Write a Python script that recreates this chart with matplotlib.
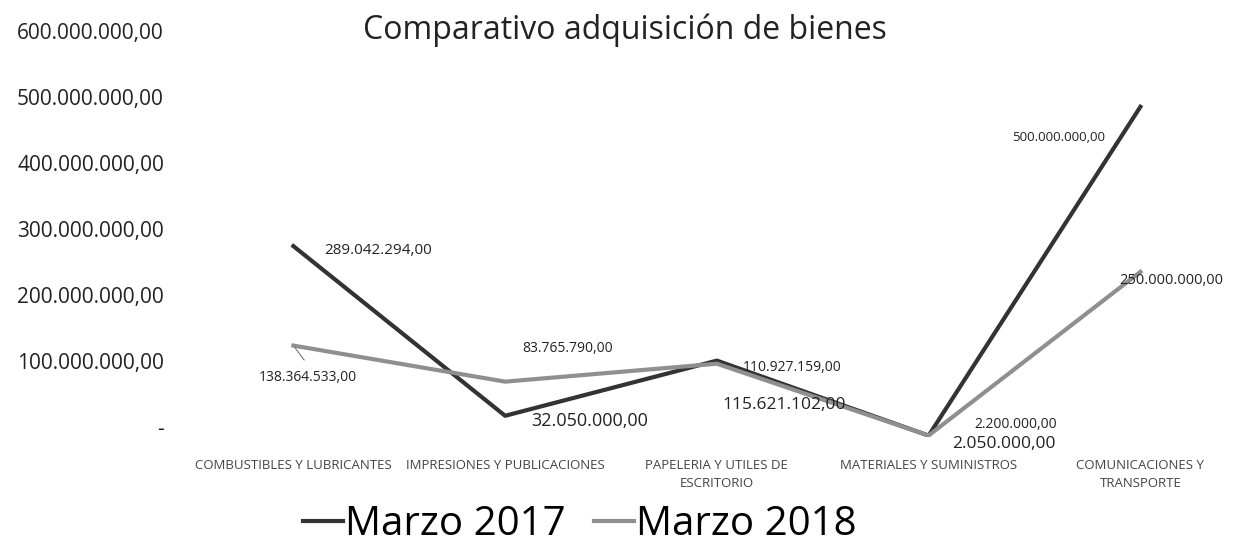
"""Comparativo adquisición de bienes: Marzo 2017 vs Marzo 2018."""

import matplotlib
matplotlib.use("Agg")
import matplotlib.pyplot as plt
import matplotlib.transforms as mtransforms
from matplotlib.ticker import FuncFormatter

categories = [
    "COMBUSTIBLES Y LUBRICANTES",
    "IMPRESIONES Y PUBLICACIONES",
    "PAPELERIA Y UTILES DE\nESCRITORIO",
    "MATERIALES Y SUMINISTROS",
    "COMUNICACIONES Y\nTRANSPORTE",
]
marzo_2017 = [289042294.00, 32050000.00, 115621102.00, 2050000.00, 500000000.00]
marzo_2018 = [138364533.00, 83765790.00, 110927159.00, 2200000.00, 250000000.00]
y_ticks = [0, 100000000, 200000000, 300000000, 400000000, 500000000, 600000000]

# label offsets (points) and sizes, to mimic the original label placement
offsets_2017 = [(22, -3), (19, -4), (4, -32), (17, -6), (-92, -22)]
sizes_2017 = [11, 13, 12.5, 12.5, 9.5]
offsets_2018 = [(-25, -23), (12, 24), (19, -3), (33, 8), (-15, -6)]
sizes_2018 = [10, 10, 10, 10, 10.5]

DARK = "#333333"
GRAY = "#8f8f8f"
plt.rcParams["font.family"] = ["Open Sans", "DejaVu Sans"]


def fmt_es(v):
    s = f"{v:,.2f}"
    return s.replace(",", "X").replace(".", ",").replace("X", ".")


def fmt_tick(v, _pos):
    if v == 0:
        return "-"
    return fmt_es(v)


fig = plt.figure(figsize=(12.5, 5.51), dpi=100)
ax = fig.add_axes([0.15, 0.207, 0.847, 0.719])

x = list(range(len(categories)))
ax.plot(x, marzo_2017, color=DARK, linewidth=3, label="Marzo 2017", zorder=3)
ax.plot(x, marzo_2018, color=GRAY, linewidth=3, label="Marzo 2018", zorder=3)

for i, v in enumerate(marzo_2017):
    ax.annotate(fmt_es(v), (i, v), xytext=offsets_2017[i], textcoords="offset points",
                ha="left", va="center", fontsize=sizes_2017[i], color="#222222")
for i, v in enumerate(marzo_2018):
    ax.annotate(fmt_es(v), (i, v), xytext=offsets_2018[i], textcoords="offset points",
                ha="left", va="center", fontsize=sizes_2018[i], color="#222222")
# leader line for the first 2018 label
ax.annotate("", (0, marzo_2018[0]), xytext=(9, -12), textcoords="offset points",
            arrowprops=dict(arrowstyle="-", color="#777777", lw=0.8))

ax.set_xlim(-0.5, len(categories) - 0.5)
ax.set_ylim(0, 600000000)
ax.set_yticks(y_ticks)
ax.yaxis.set_major_formatter(FuncFormatter(fmt_tick))
ax.set_xticks(x)
ax.set_xticklabels(categories, fontsize=9.5, color="#444444", linespacing=1.5)
ax.tick_params(axis="x", length=0, pad=16)
ax.tick_params(axis="y", length=0, pad=17, labelsize=15, labelcolor="#222222")
shift = mtransforms.ScaledTranslation(0, 0.1, fig.dpi_scale_trans)
for lbl in ax.get_yticklabels():
    lbl.set_transform(lbl.get_transform() + shift)
for side in ax.spines.values():
    side.set_visible(False)

fig.text(0.50, 0.945, "Comparativo adquisición de bienes", ha="center", va="center",
         fontsize=23, color="#222222")

fig.legend(loc="center", bbox_to_anchor=(0.464, 0.047), ncol=2, frameon=False,
           fontsize=29, handlelength=1.0, handletextpad=0.05, columnspacing=0.7)

fig.savefig("out.png", dpi=100)
